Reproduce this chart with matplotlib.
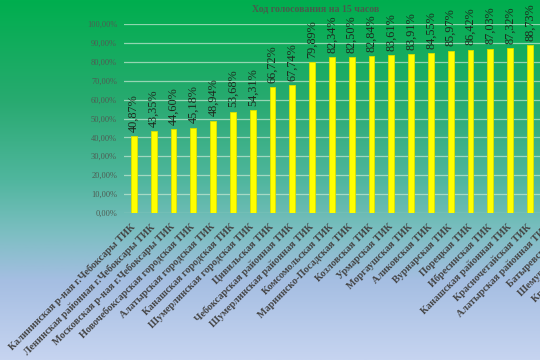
import numpy as np
import matplotlib
matplotlib.use("Agg")
import matplotlib.pyplot as plt
from matplotlib.colors import LinearSegmentedColormap

title = "Ход голосования на 15 часов"

# commissions, in chart order (the last ones are cut off by the picture edge)
commissions = [
    "Калининская р-ная г.Чебоксары ТИК",
    "Ленинская районная г.Чебоксары ТИК",
    "Московская р-ная г.Чебоксары ТИК",
    "Новочебоксарская городская ТИК",
    "Алатырская городская ТИК",
    "Канашская городская ТИК",
    "Шумерлинская городская ТИК",
    "Цивильская ТИК",
    "Чебоксарская районная ТИК",
    "Шумерлинская районная ТИК",
    "Комсомольская ТИК",
    "Мариинско-Посадская ТИК",
    "Козловская ТИК",
    "Урмарская ТИК",
    "Моргаушская ТИК",
    "Аликовская ТИК",
    "Вурнарская ТИК",
    "Порецкая ТИК",
    "Ибресинская ТИК",
    "Канашская районная ТИК",
    "Красночетайская ТИК",
    "Алатырская районная ТИК",
    "Батыревская ТИК",
    "Шемуршинская ТИК",
    "Красноармейская ТИК",
]

# turnout, % (only the bars visible in the picture)
turnout = [40.87, 43.35, 44.60, 45.18, 48.94, 53.68, 54.31, 66.72, 67.74,
           79.89, 82.34, 82.50, 82.84, 83.61, 83.91, 84.55, 85.97, 86.42,
           87.03, 87.32, 88.73]

y_ticks = list(range(0, 101, 10))

plt.rcParams["font.family"] = ["Liberation Serif", "DejaVu Serif"]

fig = plt.figure(figsize=(5.4, 3.6), dpi=100)

# gradient background: green at the top, pale blue at the bottom
bg = fig.add_axes([0, 0, 1, 1], zorder=-10)
stops = [
    (0.00, (0 / 255, 174 / 255, 78 / 255)),
    (0.28, (40 / 255, 170 / 255, 112 / 255)),
    (0.50, (80 / 255, 182 / 255, 158 / 255)),
    (0.64, (122 / 255, 190 / 255, 192 / 255)),
    (0.78, (165 / 255, 190 / 255, 226 / 255)),
    (1.00, (198 / 255, 212 / 255, 240 / 255)),
]
cmap = LinearSegmentedColormap.from_list("bg", stops)
grad = np.linspace(0, 1, 256).reshape(-1, 1)
bg.imshow(grad, aspect="auto", cmap=cmap, extent=[0, 1, 0, 1])
bg.set_axis_off()

n = len(commissions)
left_px, bottom_px, top_px, step_px = 124, 147, 336, 19.8
ax = fig.add_axes([left_px / 540, bottom_px / 360,
                   n * step_px / 540, (top_px - bottom_px) / 360])
ax.set_facecolor("none")

x = np.arange(len(turnout))
ax.bar(x, turnout, width=0.3, color="#ffff00", edgecolor="#d8e000",
       linewidth=0.6, zorder=3)

for xi, v in zip(x, turnout):
    ax.annotate(f"{v:.2f}%".replace(".", ","), (xi, v),
                xytext=(0, 3), textcoords="offset points",
                rotation=90, ha="center", va="bottom",
                fontsize=8.8, color="#1e2a1e", zorder=4)

ax.set_xlim(-0.5, n - 0.5)
ax.set_ylim(0, 100)
ax.set_yticks(y_ticks)
ax.set_yticklabels([f"{t:.2f}%".replace(".", ",") for t in y_ticks],
                   fontsize=6, color="#4e5c53")
ax.set_xticks(np.arange(n))
ax.set_xticklabels(commissions, rotation=45, ha="right", va="center",
                   rotation_mode="anchor", fontsize=7.3, fontweight="bold",
                   color="#454545")
ax.tick_params(axis="both", length=0)
ax.tick_params(axis="x", pad=9)
ax.tick_params(axis="y", pad=5)

ax.grid(axis="y", color="#c8e8d4", linewidth=0.9, alpha=0.7, zorder=0)
for s in ["top", "right", "left", "bottom"]:
    ax.spines[s].set_visible(False)

fig.text(316 / 540, 1 - 9 / 360, title, ha="center", va="center",
         fontsize=7, fontweight="bold", color="#4a5a4c")

fig.savefig("out.png", dpi=100)
